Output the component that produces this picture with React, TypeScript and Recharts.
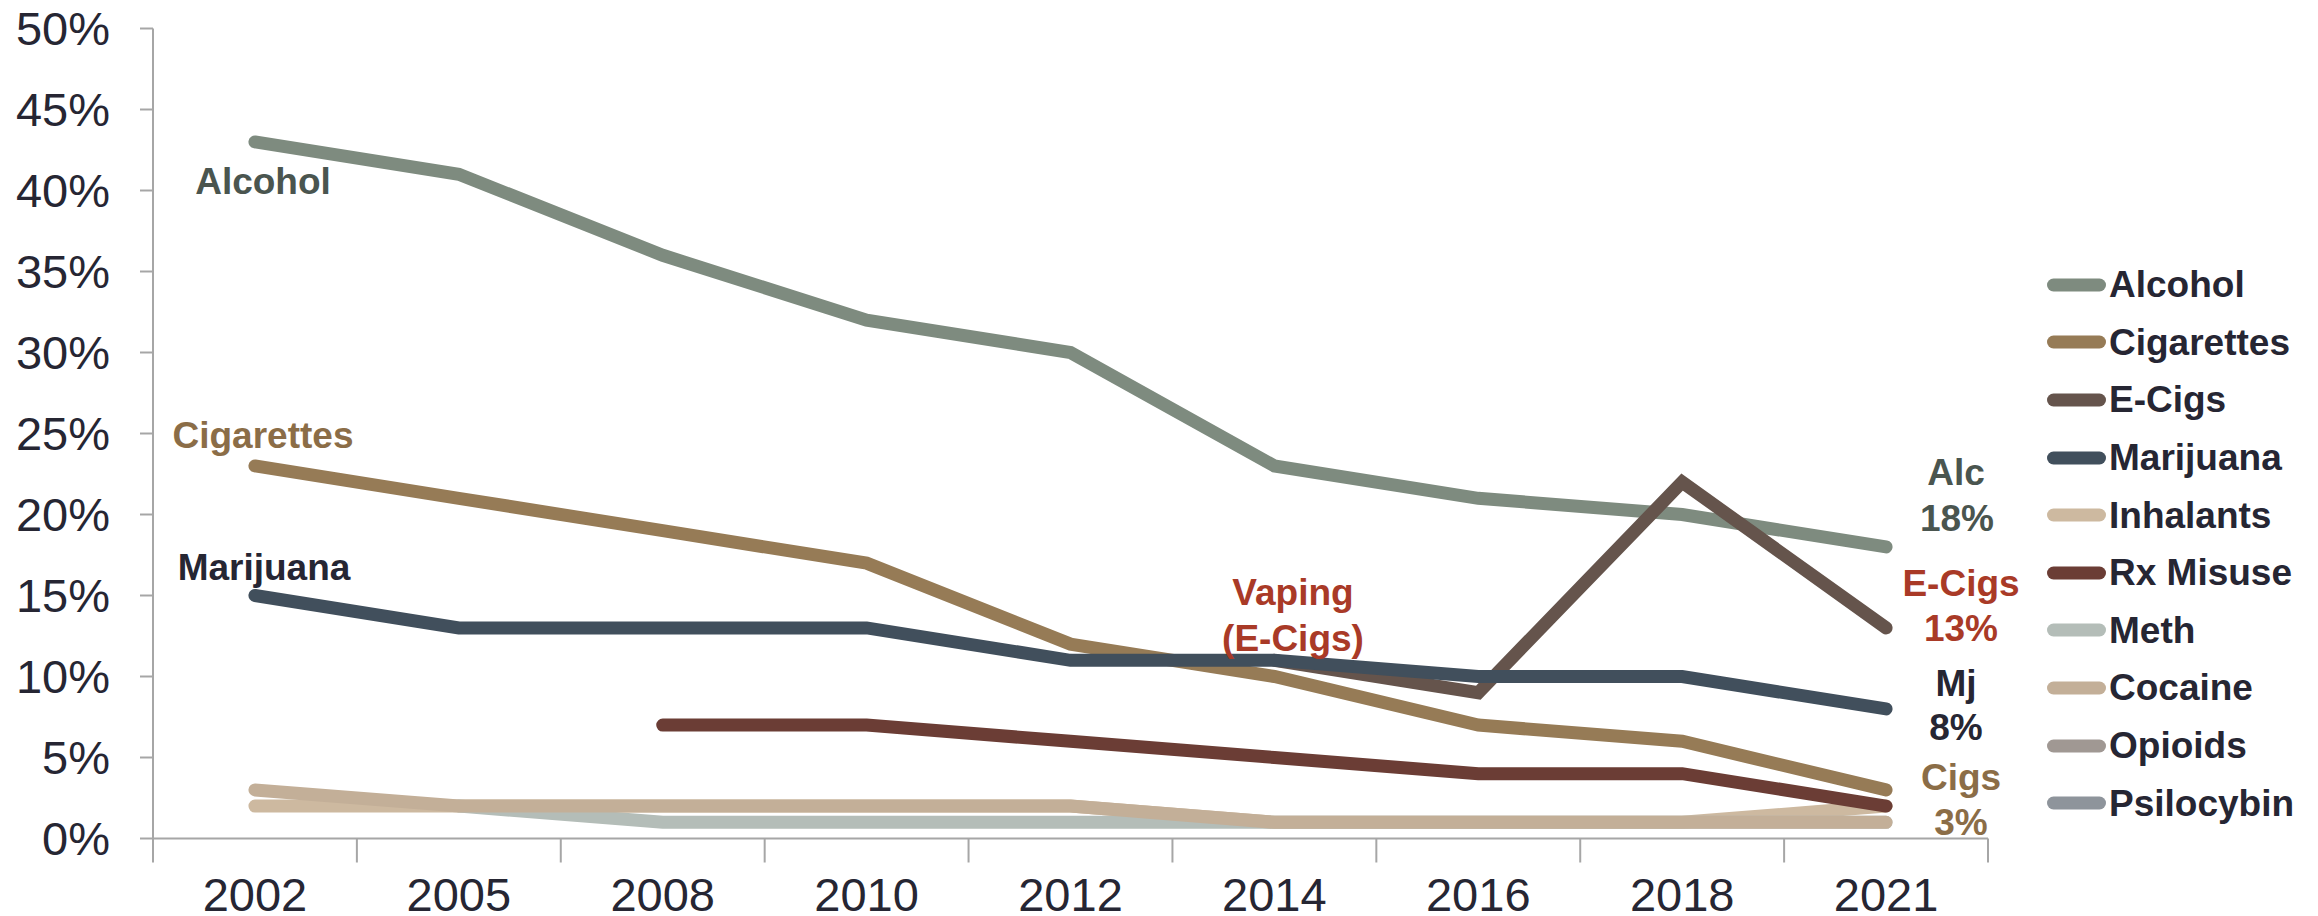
import React from 'react';
import { LineChart, Line, XAxis, YAxis, Legend } from 'recharts';

const years = ['2002', '2005', '2008', '2010', '2012', '2014', '2016', '2018', '2021'];
const alcohol = [43, 41, 36, 32, 30, 23, 21, 20, 18];
const cigarettes = [23, 21, 19, 17, 12, 10, 7, 6, 3];
const eCigs = [null, null, null, null, null, 11, 9, 22, 13];
const marijuana = [15, 13, 13, 13, 11, 11, 10, 10, 8];
const inhalants = [2, 2, 2, 2, 2, 1, 1, 1, 2];
const rxMisuse = [null, null, 7, 7, 6, 5, 4, 4, 2];
const meth = [null, 2, 1, 1, 1, 1, 1, 1, 1];
const cocaine = [3, 2, 2, 2, 2, 1, 1, 1, 1];
const opioids = [null, null, null, null, null, null, null, null, null];
const psilocybin = [null, null, null, null, null, null, null, null, null];
const yTicks = [0, 5, 10, 15, 20, 25, 30, 35, 40, 45, 50];

const seriesNames = ['Alcohol', 'Cigarettes', 'E-Cigs', 'Marijuana', 'Inhalants', 'Rx Misuse', 'Meth', 'Cocaine', 'Opioids', 'Psilocybin'];
const seriesColors = ['#7e8b7f', '#967b56', '#65544c', '#414f5c', '#cdb9a0', '#6b3d35', '#b4bdb8', '#c3af98', '#a09893', '#8e949b'];
const seriesValues = [alcohol, cigarettes, eCigs, marijuana, inhalants, rxMisuse, meth, cocaine, opioids, psilocybin];

const data = years.map((year, i) => {
  const row: any = { year };
  seriesNames.forEach((name, s) => {
    row[name] = seriesValues[s][i];
  });
  return row;
});

const W = 2318;
const H = 916;
const PLOT_LEFT = 153;
const PLOT_RIGHT = 1988;
const PLOT_TOP = 28.5;
const PLOT_BOTTOM = 838.5;
const BW = (PLOT_RIGHT - PLOT_LEFT) / years.length;
const FONT = '"Liberation Sans", Arial, Helvetica, sans-serif';
const AXIS_COLOR = '#a6a6a6';
const TEXT_DARK = '#262633';

const annotations = [
  { text: 'Alcohol', x: 263, y: 194, color: '#4a554f' },
  { text: 'Cigarettes', x: 263, y: 448, color: '#8b6d47' },
  { text: 'Marijuana', x: 264, y: 580, color: TEXT_DARK },
  { text: 'Vaping', x: 1293, y: 605, color: '#a93a27' },
  { text: '(E-Cigs)', x: 1293, y: 651, color: '#a93a27' },
  { text: 'Alc', x: 1956, y: 485, color: '#4a554f' },
  { text: '18%', x: 1957, y: 531, color: '#4a554f' },
  { text: 'E-Cigs', x: 1961, y: 596, color: '#a93a27' },
  { text: '13%', x: 1961, y: 641, color: '#a93a27' },
  { text: 'Mj', x: 1956, y: 696, color: TEXT_DARK },
  { text: '8%', x: 1956, y: 740, color: TEXT_DARK },
  { text: 'Cigs', x: 1961, y: 790, color: '#8b6d47' },
  { text: '3%', x: 1961, y: 835, color: '#8b6d47' },
];

const XTick = (props: any) => {
  const { x, y, payload, index } = props;
  const last = index === years.length - 1;
  return (
    <g>
      <line x1={x - BW / 2} x2={x - BW / 2} y1={y} y2={y + 24} stroke={AXIS_COLOR} strokeWidth={2} />
      {last && <line x1={x + BW / 2} x2={x + BW / 2} y1={y} y2={y + 24} stroke={AXIS_COLOR} strokeWidth={2} />}
      <text x={x} y={y + 39} dy="0.71em" textAnchor="middle" fontSize={47} fontFamily={FONT} fill={TEXT_DARK}>
        {payload.value}
      </text>
    </g>
  );
};

const LegendContent = (props: any) => {
  const { payload } = props;
  const items = [...(payload || [])].sort(
    (a: any, b: any) => seriesNames.indexOf(a.value) - seriesNames.indexOf(b.value)
  );
  return (
    <div style={{ fontFamily: FONT }}>
      {items.map((entry: any) => (
        <div key={entry.value} style={{ height: 57.6, display: 'flex', alignItems: 'center' }}>
          <svg width={69} height={16} style={{ display: 'block' }}>
            <line x1={13.5} x2={59.5} y1={8} y2={8} stroke={entry.color} strokeWidth={13} strokeLinecap="round" />
          </svg>
          <span style={{ fontSize: 37, fontWeight: 'bold', color: TEXT_DARK, lineHeight: 1, whiteSpace: 'nowrap' }}>
            {entry.value}
          </span>
        </div>
      ))}
    </div>
  );
};

export default function App() {
  return (
    <div style={{ position: 'absolute', left: 0, top: 0, width: W, height: H, background: '#ffffff' }}>
      <LineChart
        width={W}
        height={H}
        data={data}
        margin={{ top: PLOT_TOP, right: W - PLOT_RIGHT, bottom: 0, left: 0 }}
      >
        <XAxis
          dataKey="year"
          height={H - PLOT_BOTTOM}
          padding={{ left: BW / 2, right: BW / 2 }}
          interval={0}
          tickLine={false}
          tickSize={0}
          tickMargin={0}
          axisLine={{ stroke: AXIS_COLOR, strokeWidth: 2 }}
          tick={<XTick />}
        />
        <YAxis
          width={PLOT_LEFT}
          domain={[0, 50]}
          ticks={yTicks}
          interval={0}
          tickFormatter={(v: number) => `${v}%`}
          tickSize={13}
          tickMargin={30}
          axisLine={{ stroke: AXIS_COLOR, strokeWidth: 2 }}
          tickLine={{ stroke: AXIS_COLOR, strokeWidth: 2 }}
          tick={{ fontSize: 47, fontFamily: FONT, fill: TEXT_DARK }}
        />
        <Legend
          layout="vertical"
          align="center"
          verticalAlign="middle"
          itemSorter={null as any}
          wrapperStyle={{ left: 2040, top: 256, width: 278 }}
          content={<LegendContent />}
        />
        {seriesNames.map((name, s) => (
          <Line
            key={name}
            type="linear"
            dataKey={name}
            name={name}
            stroke={seriesColors[s]}
            strokeWidth={13}
            strokeLinecap="round"
            dot={false}
            activeDot={false}
            isAnimationActive={false}
            connectNulls={false}
          />
        ))}
      </LineChart>
      <svg
        width={W}
        height={H}
        style={{ position: 'absolute', left: 0, top: 0, pointerEvents: 'none' }}
      >
        {annotations.map((a, i) => (
          <text
            key={i}
            x={a.x}
            y={a.y}
            textAnchor="middle"
            fontSize={37}
            fontWeight="bold"
            fontFamily={FONT}
            fill={a.color}
          >
            {a.text}
          </text>
        ))}
      </svg>
    </div>
  );
}
